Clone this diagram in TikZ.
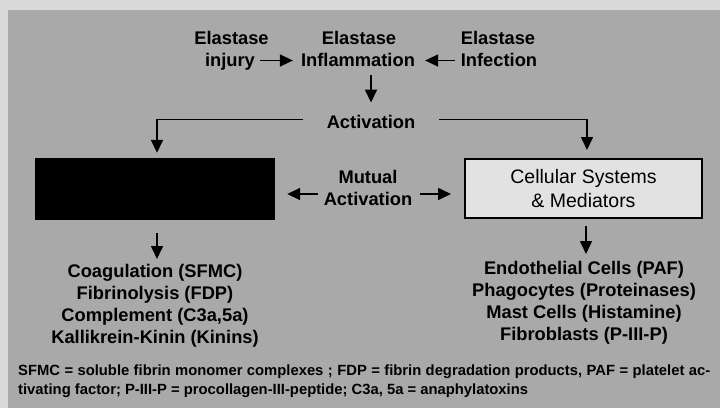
\documentclass[tikz,border=0pt]{standalone}
\usepackage{fontspec}
\setmainfont{Liberation Sans}
\usetikzlibrary{arrows.meta}
\definecolor{bgpage}{HTML}{DADADA}
\definecolor{bggrey}{HTML}{A9A9A9}
\definecolor{boxfill}{HTML}{E2E2E2}
\begin{document}
\begin{tikzpicture}[x=1pt,y=-1pt,
  lbl/.style={font=\fontsize{18.3}{22}\selectfont\bfseries, inner sep=0pt, anchor=base},
  lst/.style={font=\fontsize{18.3}{22}\selectfont\bfseries, inner sep=0pt, align=center, anchor=north},
  arr/.style={line width=1.6pt, -{Triangle[length=13pt,width=12pt]}},
  ]
\useasboundingbox (0,0) rectangle (720,408);
\fill[bgpage] (0,0) rectangle (720,408);
\fill[bggrey] (8,10) rectangle (720,408);

% top labels
\node[lbl] (e1) at (231.5,44.5) {Elastase};
\node[lbl] (inj) at (230,66.5) {injury};
\node[lbl] (e2) at (359,44.5) {Elastase};
\node[lbl] (infl) at (358,66.5) {Inflammation};
\node[lbl] (e3) at (498,44.5) {Elastase};
\node[lbl] (infc) at (499,66.5) {Infection};
\node[lbl] (act) at (371,128) {Activation};

% boxes
\node[fill=black, minimum width=240pt, minimum height=62pt, inner sep=0pt] (bb) at (155,189) {};
\node[fill=boxfill, draw=black, line width=2pt, minimum width=237pt, minimum height=59pt,
      inner sep=0pt, align=center, font=\fontsize{19.5}{24}\selectfont] (rb) at (583.5,188.5)
      {Cellular Systems\\\& Mediators};
\node[lbl, align=center, anchor=center] (ma) at (368,188) {Mutual\\Activation};

% lists
\node[lst] (ll) at (155,264.5) {Coagulation (SFMC)\\Fibrinolysis (FDP)\\Complement (C3a,5a)\\Kallikrein-Kinin (Kinins)};
\node[lst] (rl) at (584,261.5) {Endothelial Cells (PAF)\\Phagocytes (Proteinases)\\Mast Cells (Histamine)\\Fibroblasts (P-III-P)};

% footnote
\node[font=\fontsize{14.8}{19}\selectfont\bfseries, inner sep=0pt, anchor=base west, align=left] (fn) at (18,394)
  {\makebox[692pt][s]{SFMC = soluble fibrin monomer complexes ; FDP = fibrin degradation products, PAF = platelet ac-}\\
   tivating factor; P-III-P = procollagen-III-peptide; C3a, 5a = anaphylatoxins};

% arrows
\draw[arr] ([xshift=5pt,yshift=6pt]inj.base east) -- ([xshift=-8pt,yshift=6pt]infl.base west);
\draw[arr] ([xshift=-6pt,yshift=6pt]infc.base west) -- ([xshift=10pt,yshift=6pt]infl.base east);
\draw[arr] ([yshift=-8pt]act.north |- infl.south) -- ([yshift=12pt]act.north);
\draw[arr] ([xshift=-24pt,yshift=2pt]act.west) -| ([xshift=2pt,yshift=5pt]bb.north);
\draw[arr] ([xshift=24pt,yshift=2pt]act.east) -| ([xshift=3.5pt,yshift=8pt]rb.north);
\draw[arr] ([xshift=-6pt,yshift=-6pt]ma.west) -- ([xshift=12pt,yshift=-6pt]bb.east |- ma.west);
\draw[arr] ([xshift=8pt,yshift=-6pt]ma.east) -- ([xshift=-13pt,yshift=-6pt]rb.west |- ma.east);
\draw[arr] ([xshift=2pt,yshift=-13pt]bb.south) -- ([xshift=2pt,yshift=5.5pt]bb.south |- ll.north);
\draw[arr] ([xshift=2.5pt,yshift=-7pt]rb.south) -- ([xshift=2.5pt,yshift=7.5pt]rb.south |- rl.north);
\end{tikzpicture}
\end{document}
